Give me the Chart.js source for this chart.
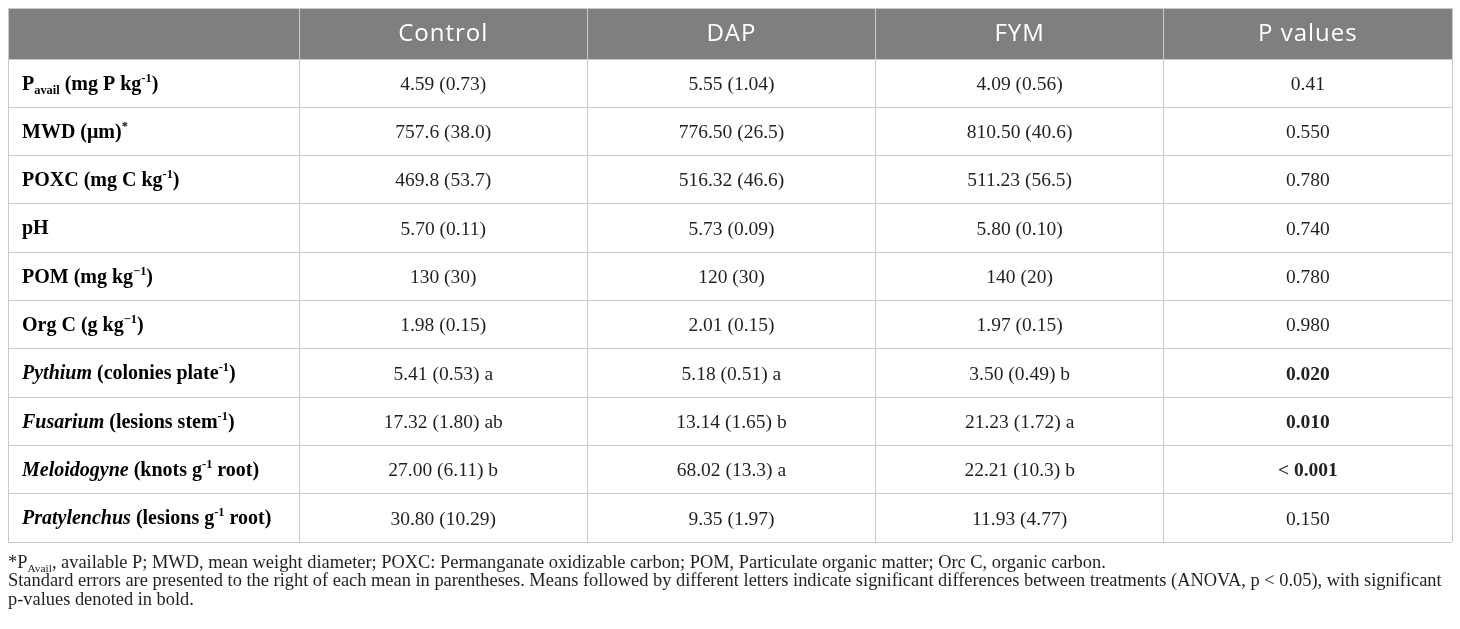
<!DOCTYPE html>
<html>
<head>
<meta charset="utf-8">
<script src="https://cdn.jsdelivr.net/npm/chart.js@4.4.1/dist/chart.umd.min.js"></script>
<style>
  html, body { margin: 0; padding: 0; background: #fff; }
  #wrap { width: 1460px; height: 629px; }
</style>
</head>
<body>
<div id="wrap"><canvas id="soil-table-chart"></canvas></div>
<script>
// table content
const columns = ["Control", "DAP", "FYM", "P values"];

const rowLabels = [
    [{ t: "P" }, { t: "avail", sub: true }, { t: " (mg P kg" }, { t: "-1", sup: true }, { t: ")" }],
    [{ t: "MWD (μm)" }, { t: "*", sup: true }],
    [{ t: "POXC (mg C kg" }, { t: "-1", sup: true }, { t: ")" }],
    [{ t: "pH" }],
    [{ t: "POM (mg kg" }, { t: "−1", sup: true }, { t: ")" }],
    [{ t: "Org C (g kg" }, { t: "−1", sup: true }, { t: ")" }],
    [{ t: "Pythium", i: true }, { t: " (colonies plate" }, { t: "-1", sup: true }, { t: ")" }],
    [{ t: "Fusarium", i: true }, { t: " (lesions stem" }, { t: "-1", sup: true }, { t: ")" }],
    [{ t: "Meloidogyne", i: true }, { t: " (knots g" }, { t: "-1", sup: true }, { t: " root)" }],
    [{ t: "Pratylenchus", i: true }, { t: " (lesions g" }, { t: "-1", sup: true }, { t: " root)" }],
];

const controlValues = [
    "4.59 (0.73)", "757.6 (38.0)", "469.8 (53.7)", "5.70 (0.11)", "130 (30)",
    "1.98 (0.15)", "5.41 (0.53) a", "17.32 (1.80) ab", "27.00 (6.11) b", "30.80 (10.29)",
];
const dapValues = [
    "5.55 (1.04)", "776.50 (26.5)", "516.32 (46.6)", "5.73 (0.09)", "120 (30)",
    "2.01 (0.15)", "5.18 (0.51) a", "13.14 (1.65) b", "68.02 (13.3) a", "9.35 (1.97)",
];
const fymValues = [
    "4.09 (0.56)", "810.50 (40.6)", "511.23 (56.5)", "5.80 (0.10)", "140 (20)",
    "1.97 (0.15)", "3.50 (0.49) b", "21.23 (1.72) a", "22.21 (10.3) b", "11.93 (4.77)",
];
const pValues = [
    "0.41", "0.550", "0.780", "0.740", "0.780",
    "0.980", "0.020", "0.010", "< 0.001", "0.150",
];
const significant = [false, false, false, false, false, false, true, true, true, false];

const footnotes = [
    [{ t: "*P" }, { t: "Avail", sub: true }, { t: ", available P; MWD, mean weight diameter; POXC: Permanganate oxidizable carbon; POM, Particulate organic matter; Orc C, organic carbon." }],
    [{ t: "Standard errors are presented to the right of each mean in parentheses. Means followed by different letters indicate significant differences between treatments (ANOVA, p < 0.05), with significant" }],
    [{ t: "p-values denoted in bold." }],
];

// layout of the grid in scale units
const FIRST_COL = 1.01;   // label column is a touch wider
const HEADER_ROW = 1.056; // header row is a touch taller
const SERIF = '"Liberation Serif", "DejaVu Serif", serif';
const SANS = '"Open Sans", "Noto Sans", sans-serif';
const INK = "#231f20";

const colEdges = [0, FIRST_COL];
columns.forEach((c, i) => colEdges.push(FIRST_COL + i + 1));
const rowEdges = [0, HEADER_ROW];
rowLabels.forEach((r, i) => rowEdges.push(HEADER_ROW + i + 1));

function segFont(seg, size, bold) {
    const s = seg.sup || seg.sub ? size * 0.62 : size;
    return `${seg.i ? "italic " : ""}${bold ? "bold " : ""}${s}px ${SERIF}`;
}

function drawRich(ctx, segs, x, yMid, align, size, bold) {
    let width = 0;
    segs.forEach((seg) => {
        ctx.font = segFont(seg, size, bold);
        width += ctx.measureText(seg.t).width;
    });
    let cx = align === "center" ? x - width / 2 : x;
    const base = yMid + size * 0.32;
    ctx.textAlign = "left";
    ctx.textBaseline = "alphabetic";
    segs.forEach((seg) => {
        ctx.font = segFont(seg, size, bold);
        let dy = 0;
        if (seg.sup) dy = -size * 0.4;
        if (seg.sub) dy = size * 0.2;
        ctx.fillText(seg.t, cx, base + dy);
        cx += ctx.measureText(seg.t).width;
    });
}

const tablePlugin = {
    id: "tableCells",
    beforeDraw(chart) {
        const { ctx, scales: { x, y } } = chart;
        ctx.save();
        ctx.fillStyle = "#7f807e";
        const top = y.getPixelForValue(0);
        const bottom = y.getPixelForValue(HEADER_ROW);
        ctx.fillRect(x.left, top, x.right - x.left, bottom - top);
        ctx.restore();
    },
    afterDatasetsDraw(chart) {
        const { ctx, scales: { x, y } } = chart;
        const mid = (edges, i, scale) =>
            (scale.getPixelForValue(edges[i]) + scale.getPixelForValue(edges[i + 1])) / 2;
        const valueCols = [controlValues, dapValues, fymValues, pValues];
        ctx.save();

        // header
        ctx.fillStyle = "#ffffff";
        ctx.font = `24px ${SANS}`;
        ctx.letterSpacing = "1px";
        ctx.textAlign = "center";
        ctx.textBaseline = "middle";
        columns.forEach((name, c) => {
            ctx.fillText(name, mid(colEdges, c + 1, x), mid(rowEdges, 0, y) + 1);
        });
        ctx.letterSpacing = "0px";

        // body rows
        rowLabels.forEach((label, r) => {
            const yc = mid(rowEdges, r + 1, y);
            ctx.fillStyle = "#000000";
            drawRich(ctx, label, x.getPixelForValue(0) + 14, yc, "left", 20, true);
            ctx.fillStyle = INK;
            valueCols.forEach((vals, c) => {
                const bold = c === 3 && significant[r];
                drawRich(ctx, [{ t: vals[r] }], mid(colEdges, c + 1, x), yc + 0.5, "center", 19.5, bold);
            });
        });

        // footnotes under the table
        ctx.fillStyle = INK;
        footnotes.forEach((line, i) => {
            drawRich(ctx, line, x.getPixelForValue(0), y.bottom + 20 + i * 18.5, "left", 18.4, false);
        });
        ctx.restore();
    },
};

const gridStyle = { color: "#c9c9c9", lineWidth: 1, drawTicks: false };

new Chart(document.getElementById("soil-table-chart"), {
    type: "scatter",
    data: { datasets: [{ data: [], pointRadius: 0 }] },
    options: {
        responsive: true,
        maintainAspectRatio: false,
        animation: false,
        events: [],
        layout: { padding: { left: 8, top: 8, right: 8, bottom: 87 } },
        plugins: { legend: { display: false }, tooltip: { enabled: false } },
        scales: {
            x: {
                type: "linear",
                min: 0,
                max: colEdges[colEdges.length - 1],
                ticks: { display: false },
                grid: gridStyle,
                border: { display: false },
                afterBuildTicks: (scale) => {
                    scale.ticks = colEdges.map((v) => ({ value: v }));
                },
            },
            y: {
                type: "linear",
                reverse: true,
                min: 0,
                max: rowEdges[rowEdges.length - 1],
                ticks: { display: false },
                grid: gridStyle,
                border: { display: false },
                afterBuildTicks: (scale) => {
                    scale.ticks = rowEdges.map((v) => ({ value: v }));
                },
            },
        },
    },
    plugins: [tablePlugin],
});
</script>
</body>
</html>
